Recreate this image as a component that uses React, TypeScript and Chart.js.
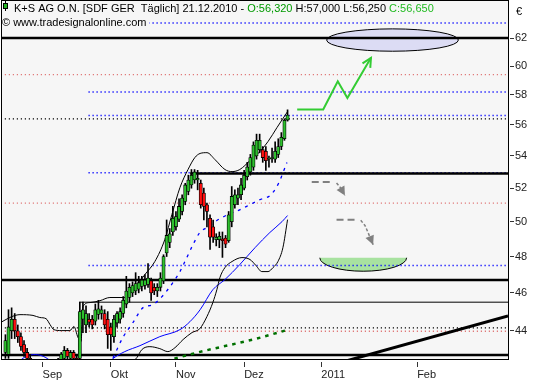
import { useEffect, useRef } from "react";
import { Chart, registerables } from "chart.js";
Chart.register(...registerables);

// ---- data (x = trading-day index, 0 = 1 Sep 2010) ----
const FIRST_BAR = -12;
const OPEN = [
  42.9, 42.8, 44.0, 44.6, 44.0, 43.7, 43.3, 42.9, 42.6, 42.2, 41.9, 42.0,
  41.8, 41.5, 41.7, 42.0, 41.8, 42.2, 42.4, 42.6, 43.0, 42.6, 42.9, 42.6,
  42.6, 44.6, 44.3, 44.6, 44.6, 44.5, 44.85, 44.9, 44.9, 44.6, 44.2, 43.7,
  44.4, 44.6, 44.9, 45.4, 45.75, 46.0, 46.1, 46.2, 46.35, 46.4, 46.45, 46.65,
  46.3, 46.1, 46.3, 46.65, 48.2, 48.8, 49.4, 49.7, 50.15, 50.6, 51.2, 51.8,
  52.2, 52.5, 52.5, 52.3, 51.7, 51.0, 50.2, 49.7, 48.95, 48.95, 49.0, 49.05,
  48.9, 50.0, 51.0, 51.4, 51.6, 52.0, 52.7, 53.0, 53.3, 54.0, 54.4, 54.4,
  54.3, 53.8, 53.85, 53.8, 54.1, 54.6, 55.1, 56.32,
];
const HIGH = [
  43.8, 45.1, 45.2, 44.9, 44.3, 43.9, 43.5, 43.1, 42.8, 42.4, 42.2, 42.3,
  42.1, 41.9, 42.2, 42.3, 42.4, 42.6, 42.9, 43.2, 43.1, 43.0, 43.0, 42.8,
  45.5, 45.5, 45.3, 44.9, 44.8, 45.4, 45.6, 45.3, 45.1, 45.0, 44.4, 44.8,
  45.0, 45.2, 45.8, 46.9, 46.5, 46.6, 47.1, 46.9, 46.9, 47.0, 47.6, 46.8,
  46.5, 46.5, 47.1, 48.1, 50.1, 49.6, 50.9, 50.6, 51.35, 51.6, 52.3, 52.8,
  53.15, 53.15, 53.1, 52.5, 52.0, 51.1, 50.4, 50.1, 49.3, 49.4, 49.4, 49.2,
  50.6, 52.1, 51.9, 52.0, 52.6, 53.1, 53.6, 54.1, 54.9, 55.4, 55.4, 54.6,
  54.6, 54.0, 54.5, 54.9, 55.1, 55.5, 56.4, 57.0,
];
const LOW = [
  42.6, 42.6, 43.6, 43.6, 43.4, 43.0, 42.7, 42.4, 42.0, 41.7, 41.5, 41.6,
  41.3, 41.2, 41.5, 41.6, 41.7, 42.0, 42.2, 42.4, 42.5, 42.3, 42.4, 42.2,
  42.4, 43.9, 43.9, 44.2, 44.1, 44.3, 44.6, 44.6, 44.1, 43.1, 43.0, 43.4,
  44.2, 44.4, 44.7, 45.2, 45.5, 45.8, 45.9, 46.0, 46.1, 46.2, 46.3, 45.6,
  45.9, 45.8, 46.1, 46.5, 48.0, 48.5, 49.2, 49.5, 50.0, 50.4, 51.0, 51.6,
  52.0, 52.3, 51.9, 50.8, 50.1, 49.7, 48.4, 48.8, 48.6, 48.5, 47.95, 48.5,
  48.8, 49.7, 50.8, 51.0, 51.3, 51.9, 52.5, 52.8, 53.1, 53.8, 54.2, 53.6,
  53.1, 53.3, 53.6, 53.6, 53.9, 54.4, 55.0, 56.25,
];
const CLOSE = [
  43.5, 44.2, 44.6, 44.0, 43.7, 43.2, 42.9, 42.6, 42.2, 41.9, 42.0, 41.8,
  41.5, 41.7, 42.0, 41.8, 42.2, 42.4, 42.8, 43.0, 42.7, 42.9, 42.6, 42.4,
  45.0, 45.1, 44.9, 44.45, 44.3, 45.1, 45.15, 45.1, 44.3, 43.8, 43.8, 44.6,
  44.9, 45.0, 45.6, 46.1, 46.3, 46.4, 46.5, 46.55, 46.7, 46.7, 46.8, 46.0,
  46.1, 46.3, 46.8, 48.0, 49.2, 49.3, 50.2, 50.3, 50.9, 51.4, 52.2, 52.5,
  52.8, 53.0, 52.6, 51.0, 50.9, 50.6, 49.1, 49.1, 49.1, 49.15, 48.9, 48.7,
  50.4, 51.5, 51.6, 51.6, 52.2, 52.8, 53.3, 53.9, 54.7, 55.0, 55.0, 53.9,
  53.7, 53.85, 53.9, 54.3, 54.6, 55.2, 56.3, 56.65,
];

const MONTH_TICKS = [0, 22, 43, 65, 89.9, 120.8];
const MONTH_LABELS = ["Sep", "Okt", "Nov", "Dez", "2011", "Feb"];
const PRICE_TICKS = [44, 46, 48, 50, 52, 54, 56, 58, 60, 62];

// indicator lines [index, price]
const BB_UPPER = [
  [-13.1, 44.47], [-9.9, 44.74], [-7.3, 44.84], [-3.1, 44.8], [-0.9, 44.69], [1.1, 44.63],
  [2.4, 44.32], [3.6, 44.06], [6.2, 44.01], [8.8, 44.01], [10.1, 44.22], [11.4, 43.66],
  [12.4, 43.45], [13.0, 45.27], [15.3, 45.48], [18.5, 45.58], [21.7, 45.75], [26.5, 45.75],
  [29.8, 46.29], [33.0, 47.0], [36.2, 47.72], [39.4, 48.96], [41.7, 50.42], [44.3, 52.04],
  [46.9, 53.15], [49.1, 53.9], [50.8, 54.16], [53.0, 54.21], [55.6, 53.77], [58.8, 53.15],
  [61.1, 53.02], [63.6, 53.15], [66.9, 53.71], [70.1, 54.28], [72.7, 54.92], [75.6, 55.83],
  [77.5, 56.42], [79, 56.88],
];
const BB_LOWER = [
  [24.9, 41.95], [30.4, 42.64], [32.0, 43.04], [34.6, 43.19], [37.8, 43.09], [40.4, 42.94],
  [42.7, 43.14], [45.3, 43.55], [48.2, 43.91], [50.7, 44.11], [53.0, 44.74], [54.9, 45.48],
  [56.2, 46.17], [57.2, 46.84], [58.8, 47.38], [61.1, 47.72], [64.3, 47.94], [66.9, 47.83],
  [68.8, 47.5], [70.7, 47.16], [72.7, 47.16], [74.3, 47.38], [75.9, 47.72], [77.5, 48.5],
  [79, 50.12],
];
const MA_DASHED = [
  [20.1, 41.95], [22.4, 42.54], [25.9, 43.66], [29.1, 44.42], [32.4, 45.21], [35.6, 45.37],
  [38.5, 45.8], [42.0, 46.55], [44.3, 47.16], [46.2, 47.83], [48.5, 48.67], [50.7, 49.37],
  [53.0, 49.66], [56.2, 50.07], [59.8, 50.42], [63.0, 50.65], [66.9, 51.01], [70.1, 51.31],
  [73.3, 51.55], [75.9, 52.22], [78.8, 53.59],
];
const MA_SOLID = [
  [-10, 42.04], [-7.3, 42.49], [-4.7, 42.74], [-2.2, 42.79], [0.4, 42.69], [3.0, 42.44],
  [8.8, 41.95], [18.5, 41.95], [22.7, 42.59], [26.5, 42.94], [31.4, 43.24], [37.8, 43.7],
  [44.3, 44.06], [47.5, 44.47], [50.8, 45.1], [54.9, 46.17], [58.8, 46.72], [63.6, 47.55],
  [68.5, 48.5], [73.3, 49.37], [77.2, 50.0], [79, 50.36],
];
const MA_LONG = [[34.6, 42.24], [43.6, 42.64], [52.4, 42.99], [61.1, 43.3], [69.1, 43.6], [78.2, 44.01]];

// horizontal levels
const BLUE_DOT_LEVELS = [63.1, 58.2, 56.62, 52.95, 47.5];
const PINK_DOT_LEVELS = [59.4, 51.1, 43.98];
const BLACK_DOT_LEVELS = [56.4, 44.15];
const PARTIAL_FROM = 14.8;
const FULL_FROM = -12.2;
const LEVEL_TO = 149.5;
const THICK_LEVELS = [62, 46.7, 42.77];
const RESIST_LEVEL = 52.9;
const RESIST_FROM = 47.6;
const THIN_LEVEL = 45.5;
const THIN_FROM = 11.8;

// drawings
const TREND_LINE = [[95, 42.35], [150.1, 44.77]];
const UP_ARROW = [[82.1, 57.02], [90.5, 57.02], [95.2, 58.94], [98.3, 57.8], [105.9, 60.58]];
const DOWN1_SHAFT = [[86.8, 52.38], [92.7, 52.38]];
const DOWN1_CURVE = [[94.8, 52.32], [96.1, 52.02], [97.5, 51.55]];
const DOWN2_SHAFT = [[94.8, 50.12], [100.7, 50.12]];
const DOWN2_CURVE = [[102.6, 50.08], [104.0, 49.77], [105.0, 49.35], [106.6, 48.67]];
const TARGET_X = [91.6, 134.1];
const TARGET_Y = [61.05, 62.67];
const BOWL_X = [89.4, 117.4];
const BOWL_Y = [47.18, 47.93];

const X_MIN = -13.1;
const X_MAX = 150.1;
const Y_MIN = 42.57;
const Y_MAX = 64.75;

const FONT = "'Liberation Sans', Arial, sans-serif";
const PLOT_BG = "#f6f6f6";

const pts = (arr: number[][]) => arr.map(([x, y]) => ({ x, y }));
const seg = (from: number, to: number, v: number) => [{ x: from, y: v }, { x: to, y: v }];

function lineDs(data: any[], color: string, width: number, dash: number[], order: number, extra: any = {}) {
  return {
    type: "line",
    data,
    borderColor: color,
    backgroundColor: color,
    borderWidth: width,
    borderDash: dash,
    pointRadius: 0,
    pointHoverRadius: 0,
    fill: false,
    tension: 0,
    order,
    ...extra,
  };
}

const fmt = (v: number) => v.toFixed(3).replace(".", ",");

const drawPlugin = {
  id: "drawings",
  beforeDraw(chart: any) {
    const { ctx, chartArea: a } = chart;
    ctx.save();
    ctx.fillStyle = PLOT_BG;
    ctx.fillRect(a.left, a.top - 1, a.right - a.left, a.bottom - a.top + 1);
    ctx.restore();
  },
  beforeDatasetsDraw(chart: any) {
    const { ctx } = chart;
    const xs = chart.scales.x, ys = chart.scales.y;
    ctx.save();
    let l = xs.getPixelForValue(TARGET_X[0]), r = xs.getPixelForValue(TARGET_X[1]);
    let t = ys.getPixelForValue(TARGET_Y[1]), b = ys.getPixelForValue(TARGET_Y[0]);
    ctx.beginPath();
    ctx.ellipse((l + r) / 2, (t + b) / 2, (r - l) / 2, (b - t) / 2, 0, 0, Math.PI * 2);
    ctx.fillStyle = "#dcdcf4";
    ctx.fill();
    ctx.lineWidth = 1;
    ctx.strokeStyle = "#000";
    ctx.stroke();
    l = xs.getPixelForValue(BOWL_X[0]);
    r = xs.getPixelForValue(BOWL_X[1]);
    t = ys.getPixelForValue(BOWL_Y[1]);
    b = ys.getPixelForValue(BOWL_Y[0]);
    ctx.beginPath();
    ctx.ellipse((l + r) / 2, t, (r - l) / 2, b - t, 0, 0, Math.PI);
    ctx.closePath();
    ctx.fillStyle = "#a8e2a0";
    ctx.fill();
    ctx.beginPath();
    ctx.ellipse((l + r) / 2, t, (r - l) / 2, b - t, 0, 0, Math.PI);
    ctx.stroke();
    ctx.restore();
  },
  afterDatasetsDraw(chart: any) {
    const { ctx, chartArea: a } = chart;
    ctx.save();
    chart.data.datasets.forEach((ds: any, i: number) => {
      if (!ds.arrowHead) return;
      const el = chart.getDatasetMeta(i).data;
      const p1 = el[el.length - 2], p2 = el[el.length - 1];
      const ang = Math.atan2(p2.y - p1.y, p2.x - p1.x);
      const len = 9, half = 4.5;
      const bx = p2.x - len * Math.cos(ang), by = p2.y - len * Math.sin(ang);
      const nx = -Math.sin(ang) * half, ny = Math.cos(ang) * half;
      ctx.beginPath();
      ctx.moveTo(bx + nx, by + ny);
      ctx.lineTo(p2.x, p2.y);
      ctx.lineTo(bx - nx, by - ny);
      ctx.setLineDash([]);
      if (ds.arrowHead === "filled") {
        ctx.closePath();
        ctx.fillStyle = ds.borderColor;
        ctx.fill();
      } else {
        ctx.strokeStyle = ds.borderColor;
        ctx.lineWidth = 2;
        ctx.stroke();
      }
    });
    ctx.strokeStyle = "#000";
    ctx.lineWidth = 1;
    ctx.strokeRect(a.left - 0.5, a.top - 0.5, a.right - a.left + 1, a.bottom - a.top + 1);
    ctx.restore();
  },
  afterDraw(chart: any) {
    const { ctx, chartArea: a } = chart;
    const n = OPEN.length - 1;
    ctx.save();
    ctx.font = `11px ${FONT}`;
    ctx.textBaseline = "alphabetic";
    ctx.fillStyle = "#000";
    ctx.fillRect(5, 1, 1, 10);
    ctx.fillStyle = "#22b422";
    ctx.fillRect(3, 3, 5, 6);
    ctx.strokeStyle = "#000";
    ctx.lineWidth = 1;
    ctx.strokeRect(3.5, 3.5, 4, 5);
    const parts: [string, string][] = [
      ["K+S AG O.N. [SDF GER  Täglich] 21.12.2010 - ", "#000"],
      ["O:" + fmt(OPEN[n]), "#009a00"],
      [" H:" + fmt(HIGH[n]) + " L:" + fmt(LOW[n]) + " ", "#000"],
      ["C:" + fmt(CLOSE[n]), "#22bb22"],
    ];
    let x = 14;
    for (const [s, c] of parts) {
      ctx.fillStyle = c;
      ctx.fillText(s, x, 12);
      x += ctx.measureText(s).width;
    }
    const cp = "© www.tradesignalonline.com";
    const w = ctx.measureText(cp).width;
    ctx.fillStyle = PLOT_BG;
    ctx.fillRect(a.left, 15, w + 3, 13);
    ctx.fillStyle = "#000";
    ctx.fillText(cp, 2, 26);
    ctx.fillText("€", a.right + 8, 15);
    ctx.restore();
  },
};

export default function App() {
  const ref = useRef<HTMLCanvasElement>(null);
  useEffect(() => {
    const canvas = ref.current!;
    const bars = OPEN.map((_, k) => FIRST_BAR + k);
    const wickData = bars.map((x, k) => ({ x, y: [LOW[k], HIGH[k]] }));
    const bodyData = bars.map((x, k) => ({
      x,
      y: [Math.min(OPEN[k], CLOSE[k]), Math.max(OPEN[k], CLOSE[k])],
    }));
    const bodyColors = bars.map((_, k) => (CLOSE[k] >= OPEN[k] ? "#2ec02e" : "#ff1010"));

    const datasets: any[] = [];
    BLUE_DOT_LEVELS.forEach((v) => datasets.push(lineDs(seg(PARTIAL_FROM, LEVEL_TO, v), "#0000ff", 1.4, [1.2, 2.8], 100)));
    PINK_DOT_LEVELS.forEach((v) => datasets.push(lineDs(seg(FULL_FROM, LEVEL_TO, v), "#e07a7a", 1.4, [1.2, 2.8], 100)));
    BLACK_DOT_LEVELS.forEach((v) => datasets.push(lineDs(seg(FULL_FROM, LEVEL_TO, v), "#000000", 1.4, [1.2, 2.8], 100)));
    THICK_LEVELS.forEach((v) => datasets.push(lineDs(seg(X_MIN, X_MAX, v), "#000000", 2.5, [], 90)));
    datasets.push(lineDs(seg(RESIST_FROM, X_MAX, RESIST_LEVEL), "#000000", 2.5, [], 90));
    datasets.push(lineDs(seg(THIN_FROM, X_MAX, THIN_LEVEL), "#000000", 1, [], 90));
    datasets.push(lineDs(pts(BB_UPPER), "#000000", 1, [], 80, { cubicInterpolationMode: "monotone" }));
    datasets.push(lineDs(pts(BB_LOWER), "#000000", 1, [], 80, { cubicInterpolationMode: "monotone" }));
    datasets.push(lineDs(pts(MA_SOLID), "#0000ff", 1, [], 80, { cubicInterpolationMode: "monotone" }));
    datasets.push(lineDs(pts(MA_DASHED), "#0000ff", 1.3, [3, 5], 80, { cubicInterpolationMode: "monotone" }));
    datasets.push({
      type: "bar",
      data: wickData,
      backgroundColor: "#000000",
      barThickness: 1,
      grouped: false,
      order: 70,
    });
    datasets.push({
      type: "bar",
      data: bodyData,
      backgroundColor: bodyColors,
      borderColor: "#000000",
      borderWidth: 0.8,
      borderSkipped: false,
      barThickness: 3.3,
      grouped: false,
      order: 60,
    });
    datasets.push(lineDs(pts(MA_LONG), "#007000", 2.5, [3.5, 5], 50));
    datasets.push(lineDs(pts(TREND_LINE), "#000000", 3, [], 50));
    datasets.push(lineDs(pts(UP_ARROW), "#33cc33", 2, [], 40, { arrowHead: "open" }));
    datasets.push(lineDs(pts(DOWN1_SHAFT), "#808080", 2, [7, 4], 40));
    datasets.push(lineDs(pts(DOWN1_CURVE), "#808080", 1.5, [3, 2], 40, { arrowHead: "filled" }));
    datasets.push(lineDs(pts(DOWN2_SHAFT), "#808080", 2, [7, 4], 40));
    datasets.push(lineDs(pts(DOWN2_CURVE), "#808080", 1.5, [3, 2], 40, { arrowHead: "filled" }));

    Chart.defaults.font.family = FONT;
    Chart.defaults.font.size = 11;

    const chart = new Chart(canvas, {
      type: "bar",
      data: { datasets },
      plugins: [drawPlugin],
      options: {
        animation: false,
        responsive: false,
        events: [],
        layout: { padding: { left: 2, top: 1, right: 0, bottom: 0 } },
        plugins: { legend: { display: false }, tooltip: { enabled: false } },
        scales: {
          x: {
            type: "linear",
            min: X_MIN,
            max: X_MAX,
            offset: false,
            border: { display: false },
            grid: {
              offset: false,
              drawOnChartArea: false,
              drawTicks: true,
              tickLength: 8,
              tickColor: "#333333",
              tickBorderDash: [0, 3, 5],
            },
            ticks: {
              autoSkip: false,
              maxRotation: 0,
              minRotation: 0,
              align: "start",
              padding: 1,
              color: "#222222",
              font: { size: 11, family: FONT },
              callback: (_v: any, i: number) => MONTH_LABELS[i],
            },
            afterBuildTicks: (s: any) => {
              s.ticks = MONTH_TICKS.map((value) => ({ value }));
            },
            afterFit: (s: any) => {
              s.height = 21;
              s.paddingLeft = 0;
              s.paddingRight = 0;
            },
          } as any,
          y: {
            type: "logarithmic",
            position: "right",
            min: Y_MIN,
            max: Y_MAX,
            border: { display: false },
            grid: {
              drawOnChartArea: false,
              drawTicks: true,
              tickLength: 6,
              tickColor: "#333333",
              tickBorderDash: [0, 2, 4],
            },
            ticks: {
              padding: 1,
              color: "#222222",
              font: { size: 11, family: FONT },
              callback: (v: any) => String(v),
            },
            afterBuildTicks: (s: any) => {
              s.ticks = PRICE_TICKS.map((value) => ({ value }));
            },
            afterFit: (s: any) => {
              s.width = 25;
              s.paddingTop = 0;
              s.paddingBottom = 0;
            },
          } as any,
        },
      } as any,
    } as any);
    return () => chart.destroy();
  }, []);
  return (
    <div style={{ position: "fixed", left: 0, top: 0, width: 533, height: 380, background: "#ffffff" }}>
      <canvas ref={ref} width={533} height={380} style={{ display: "block", width: 533, height: 380 }} />
    </div>
  );
}
